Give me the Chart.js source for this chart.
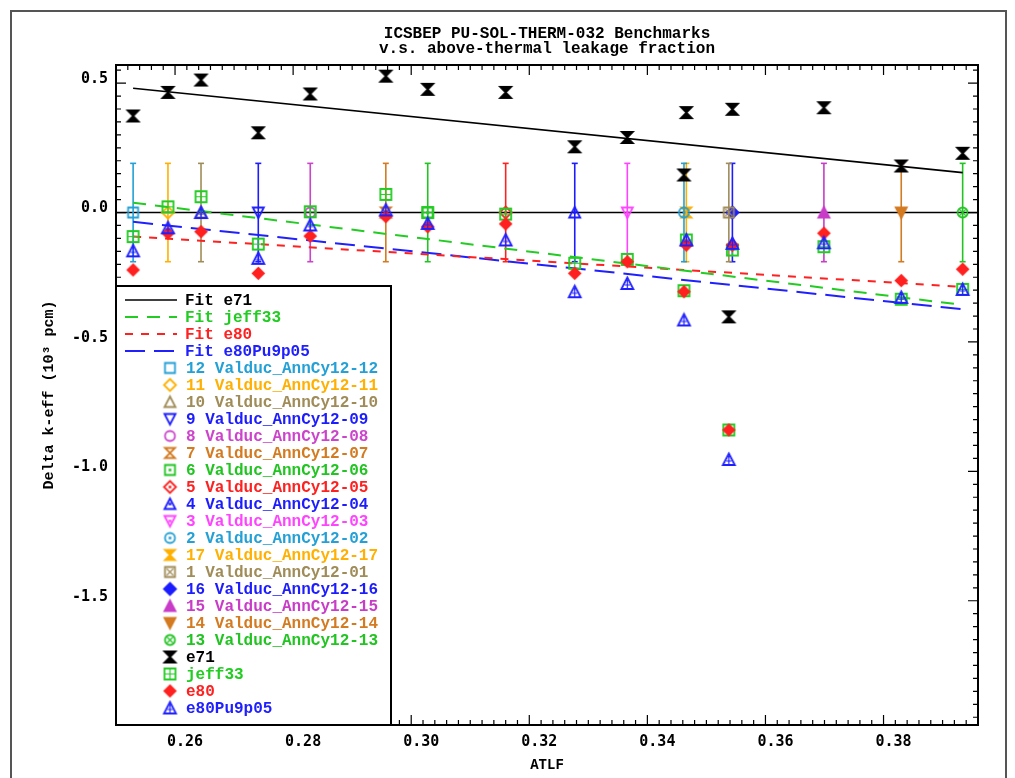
<!DOCTYPE html>
<html lang="en">
<head>
  <meta charset="UTF-8">
  <title>ICSBEP PU-SOL-THERM-032 Benchmarks</title>
  <script src="https://cdn.jsdelivr.net/npm/chart.js"></script>
  <style>
    * { margin: 0; padding: 0; box-sizing: border-box; }
    body { background: #fff; width: 1015px; height: 778px; overflow: hidden; }
    #plot { display: block; }
  </style>
</head>
<body>
  <canvas id="plot" width="1015" height="778"></canvas>

  <script>
    // benchmark cases, in legend order
    const caseIds = ['12', '11', '10', '9', '8', '7', '6', '5', '4', '3', '2', '17', '1', '16', '15', '14', '13'];
    const atlf = [0.2529, 0.2588, 0.2644, 0.2741, 0.2829, 0.2957, 0.3028, 0.3160, 0.3277,
                  0.3366, 0.3462, 0.3466, 0.3538, 0.3544, 0.3699, 0.3830, 0.3934];
    const expUnc = [0.19, 0.19, 0.19, 0.19, 0.19, 0.19, 0.19, 0.19, 0.19,
                    0.19, 0.19, 0.19, 0.19, 0.19, 0.19, 0.19, 0.19];

    // C-E per library (10^3 pcm)
    const e71 = [0.373, 0.464, 0.512, 0.308, 0.458, 0.527, 0.476, 0.464, 0.254,
                 0.290, 0.145, 0.386, -0.403, 0.399, 0.405, 0.180, 0.229];
    const jeff33 = [-0.093, 0.022, 0.061, -0.122, 0.003, 0.070, 0.000, -0.006, -0.196,
                    -0.181, -0.302, -0.106, -0.840, -0.145, -0.132, -0.335, -0.297];
    const e80 = [-0.222, -0.080, -0.074, -0.235, -0.091, -0.016, -0.055, -0.044, -0.235,
                 -0.190, -0.306, -0.126, -0.840, -0.126, -0.080, -0.263, -0.219];
    const e80Pu9p05 = [-0.148, -0.059, 0.000, -0.177, -0.048, 0.010, -0.042, -0.106, -0.306,
                       -0.274, -0.415, -0.106, -0.954, -0.119, -0.117, -0.328, -0.297];

    // linear fits, end points
    const fitX = [0.2529, 0.3934];
    const fitE71 = [0.480, 0.154];
    const fitJeff33 = [0.038, -0.357];
    const fitE80 = [-0.093, -0.287];
    const fitE80Pu = [-0.036, -0.374];

    const xTicks = [0.26, 0.28, 0.30, 0.32, 0.34, 0.36, 0.38];
    const yTicks = [0.5, 0.0, -0.5, -1.0, -1.5];

    // styles
    const caseColors = ['#23a0d6', '#ffb000', '#a08c58', '#1c1cff', '#cc44cc', '#d47a20', '#22c422', '#ff2020', '#1c1cff',
                        '#ff44ff', '#23a0d6', '#ffb000', '#a08c58', '#1c1cff', '#c83cc8', '#d47a20', '#22c422'];
    const caseShapes = [
      ['square', 'open', ''], ['diamond', 'open', ''], ['triUp', 'open', ''], ['triDown', 'open', ''],
      ['circle', 'open', ''], ['hourglass', 'open', ''], ['square', 'open', 'dot'], ['diamond', 'open', 'dot'],
      ['triUp', 'open', 'dot'], ['triDown', 'open', 'dot'], ['circle', 'open', 'dot'], ['hourglass', 'fill', ''],
      ['square', 'open', 'x'], ['diamond', 'fill', ''], ['triUp', 'fill', ''], ['triDown', 'fill', ''],
      ['circle', 'open', 'x']
    ];

    const MONO = '"Liberation Mono", "DejaVu Sans Mono", monospace';

    function marker(shape, color, h) {
      const c = document.createElement('canvas');
      c.width = 17; c.height = 17;
      const g = c.getContext('2d');
      const m = 8.5;
      g.strokeStyle = color; g.fillStyle = color; g.lineWidth = 1.8;
      const [base, mode, inner] = shape;
      g.beginPath();
      if (base === 'square') g.rect(m - h, m - h, 2 * h, 2 * h);
      if (base === 'diamond') { g.moveTo(m, m - h - 1); g.lineTo(m + h + 1, m); g.lineTo(m, m + h + 1); g.lineTo(m - h - 1, m); g.closePath(); }
      if (base === 'triUp') { g.moveTo(m, m - h - 0.5); g.lineTo(m + h + 0.5, m + h); g.lineTo(m - h - 0.5, m + h); g.closePath(); }
      if (base === 'triDown') { g.moveTo(m, m + h + 0.5); g.lineTo(m + h + 0.5, m - h); g.lineTo(m - h - 0.5, m - h); g.closePath(); }
      if (base === 'circle') g.arc(m, m, h, 0, Math.PI * 2);
      if (base === 'hourglass') { g.moveTo(m - h, m - h); g.lineTo(m + h, m - h); g.lineTo(m - h, m + h); g.lineTo(m + h, m + h); g.closePath(); }
      if (mode === 'fill') g.fill();
      g.stroke();
      g.lineWidth = 1.2;
      if (inner === 'dot') g.fillRect(m - 1.3, m - 1.3, 2.6, 2.6);
      if (inner === 'plus') { g.beginPath(); g.moveTo(m, m - h); g.lineTo(m, m + h); g.moveTo(m - h, m); g.lineTo(m + h, m); g.stroke(); }
      if (inner === 'x') { const d = h * 0.65; g.beginPath(); g.moveTo(m - d, m - d); g.lineTo(m + d, m + d); g.moveTo(m + d, m - d); g.lineTo(m - d, m + d); g.stroke(); }
      if (inner === 'vline') { g.beginPath(); g.moveTo(m, m - h + 2); g.lineTo(m, m + h); g.moveTo(m - 2.5, m + 1.5); g.lineTo(m + 2.5, m + 1.5); g.stroke(); }
      return c;
    }

    const caseMarkers = caseShapes.map((s, i) => marker(s, caseColors[i], 5));

    const libraries = [
      { name: 'e71', values: e71, color: '#000000', shape: ['hourglass', 'fill', ''], size: 5.5, order: 1 },
      { name: 'jeff33', values: jeff33, color: '#22cc22', shape: ['square', 'open', 'plus'], size: 5.5, order: 4 },
      { name: 'e80', values: e80, color: '#ff2020', shape: ['diamond', 'fill', ''], size: 4.6, order: 3 },
      { name: 'e80Pu9p05', values: e80Pu9p05, color: '#2020ff', shape: ['triUp', 'open', 'vline'], size: 5.5, order: 2 }
    ];
    libraries.forEach(l => { l.marker = marker(l.shape, l.color, l.size); });

    const fits = [
      { name: 'Fit e71', values: fitE71, color: '#000000', dash: [], width: 1.6 },
      { name: 'Fit jeff33', values: fitJeff33, color: '#22cc22', dash: [13, 9], width: 2 },
      { name: 'Fit e80', values: fitE80, color: '#ff2020', dash: [8, 8], width: 2 },
      { name: 'Fit e80Pu9p05', values: fitE80Pu, color: '#2020ff', dash: [20, 9], width: 2 }
    ];

    const datasets = [];
    fits.forEach(f => {
      datasets.push({
        label: f.name,
        data: fitX.map((x, i) => ({ x: x, y: f.values[i] })),
        showLine: true, borderColor: f.color, borderWidth: f.width, borderDash: f.dash,
        pointRadius: 0, order: 6
      });
    });
    caseIds.forEach((id, i) => {
      datasets.push({
        label: id + ' Valduc_AnnCy12-' + id.padStart(2, '0'),
        data: [{ x: atlf[i], y: -expUnc[i] }, { x: atlf[i], y: 0 }, { x: atlf[i], y: expUnc[i] }],
        showLine: true, borderColor: caseColors[i], borderWidth: 1.6,
        pointStyle: ['line', caseMarkers[i], 'line'],
        pointRadius: [3, 6, 3], pointBorderColor: caseColors[i], pointBorderWidth: 1.6,
        order: 10
      });
    });
    libraries.forEach(l => {
      datasets.push({
        label: l.name,
        data: atlf.map((x, i) => ({ x: x, y: l.values[i] })),
        pointStyle: l.marker, pointRadius: 6, order: l.order
      });
    });

    const framePlugin = {
      id: 'idlFrame',
      beforeDatasetsDraw(chart) {
        const { ctx, chartArea: a, scales: { y } } = chart;
        const y0 = y.getPixelForValue(0);
        ctx.save();
        ctx.strokeStyle = '#000'; ctx.lineWidth = 1.6;
        ctx.beginPath(); ctx.moveTo(a.left, y0); ctx.lineTo(a.right, y0); ctx.stroke();
        ctx.restore();
      },
      afterDatasetsDraw(chart) {
        const { ctx, chartArea: a, scales: { x, y } } = chart;
        ctx.save();
        ctx.strokeStyle = '#000'; ctx.lineWidth = 1.2;
        ctx.beginPath();
        for (let n = 250; n <= Math.round(x.max * 1000); n += 2) {
          const px = x.getPixelForValue(n / 1000);
          const len = (n % 20 === 0) ? 10 : 5;
          ctx.moveTo(px, a.bottom); ctx.lineTo(px, a.bottom - len);
          ctx.moveTo(px, a.top); ctx.lineTo(px, a.top + len);
        }
        for (let n = -195; n <= Math.round(y.max * 100); n += 5) {
          const py = y.getPixelForValue(n / 100);
          const len = (n % 50 === 0) ? 10 : 5;
          ctx.moveTo(a.left, py); ctx.lineTo(a.left + len, py);
          ctx.moveTo(a.right, py); ctx.lineTo(a.right - len, py);
        }
        ctx.stroke();
        ctx.lineWidth = 2;
        ctx.strokeRect(a.left, a.top, a.right - a.left, a.bottom - a.top);
        ctx.restore();
      },
      afterDraw(chart) {
        const { ctx, chartArea: a } = chart;
        ctx.save();
        // outer frame
        ctx.strokeStyle = '#555'; ctx.lineWidth = 2;
        ctx.strokeRect(11, 11, 995, 800);
        // title
        ctx.fillStyle = '#000';
        ctx.font = 'bold 16px ' + MONO;
        ctx.textAlign = 'center'; ctx.textBaseline = 'middle';
        const cx = (a.left + a.right) / 2;
        ctx.fillText('ICSBEP PU-SOL-THERM-032 Benchmarks', cx, 34);
        ctx.fillText('v.s. above-thermal leakage fraction', cx, 49);

        // legend box
        const lx = a.left, ly = 286, lw = 275, lh = a.bottom - 286;
        ctx.fillStyle = '#fff';
        ctx.fillRect(lx, ly, lw, lh);
        ctx.strokeStyle = '#000'; ctx.lineWidth = 2;
        ctx.strokeRect(lx, ly, lw, lh);
        ctx.font = 'bold 16px ' + MONO;
        ctx.textAlign = 'left';
        const rowY = k => 300 + k * 17;
        let k = 0;
        fits.forEach(f => {
          ctx.strokeStyle = f.color; ctx.lineWidth = f.width; ctx.setLineDash(f.dash);
          ctx.beginPath(); ctx.moveTo(125, rowY(k)); ctx.lineTo(177, rowY(k)); ctx.stroke();
          ctx.setLineDash([]);
          ctx.fillStyle = f.color; ctx.fillText(f.name, 185, rowY(k) + 1);
          k++;
        });
        caseIds.forEach((id, i) => {
          const mk = caseMarkers[i];
          ctx.drawImage(mk, 170 - mk.width / 2, rowY(k) - mk.height / 2);
          ctx.fillStyle = caseColors[i];
          ctx.fillText(chart.data.datasets[4 + i].label, 186, rowY(k) + 1);
          k++;
        });
        libraries.forEach(l => {
          ctx.drawImage(l.marker, 170 - l.marker.width / 2, rowY(k) - l.marker.height / 2);
          ctx.fillStyle = l.color;
          ctx.fillText(l.name, 186, rowY(k) + 1);
          k++;
        });
        ctx.restore();
      }
    };

    new Chart(document.getElementById('plot').getContext('2d'), {
      type: 'scatter',
      data: { datasets: datasets },
      plugins: [framePlugin],
      options: {
        responsive: false,
        animation: false,
        events: [],
        layout: { padding: { left: 30, right: 37, top: 65, bottom: 0 } },
        plugins: { legend: { display: false }, tooltip: { enabled: false }, title: { display: false } },
        scales: {
          x: {
            type: 'linear', min: 0.25, max: 0.396,
            afterBuildTicks: s => { s.ticks = xTicks.map(v => ({ value: v })); },
            afterFit: s => { s.height = 53; },
            grid: { display: false, drawTicks: false },
            border: { display: false },
            ticks: {
              autoSkip: false, maxRotation: 0, padding: 8, labelOffset: 10, color: '#000',
              font: { family: '"DejaVu Sans Mono", monospace', size: 15, weight: 'bold' },
              callback: v => v.toFixed(2)
            },
            title: {
              display: true, text: 'ATLF', color: '#000', padding: { bottom: 4 },
              font: { family: MONO, size: 14, weight: 'bold' }
            }
          },
          y: {
            type: 'linear', min: -1.98, max: 0.57,
            afterBuildTicks: s => { s.ticks = yTicks.map(v => ({ value: v })); },
            afterFit: s => { s.width = 86; },
            grid: { display: false, drawTicks: false },
            border: { display: false },
            ticks: {
              autoSkip: false, padding: 8, labelOffset: -4, color: '#000',
              font: { family: '"DejaVu Sans Mono", monospace', size: 15, weight: 'bold' },
              callback: v => v.toFixed(1)
            },
            title: {
              display: true, text: 'Delta k-eff (10³ pcm)', color: '#000', padding: { top: 10 },
              font: { family: MONO, size: 15, weight: 'bold' }
            }
          }
        }
      }
    });
  </script>
</body>
</html>
